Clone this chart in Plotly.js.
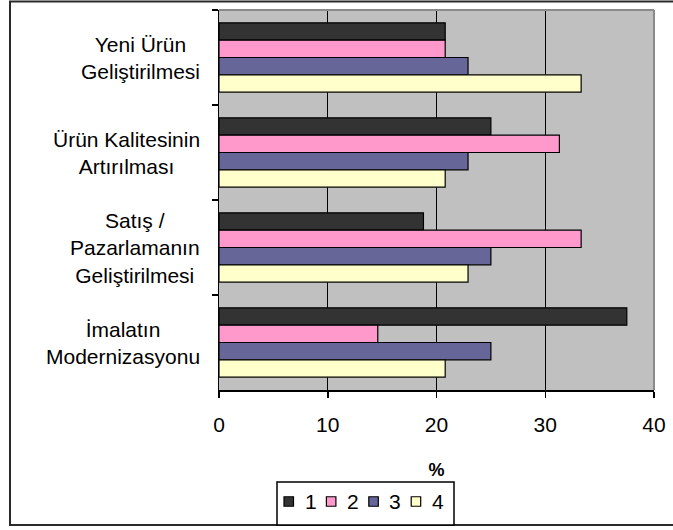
<!DOCTYPE html>
<html>
<head>
<meta charset="utf-8">
<script src="https://cdn.plot.ly/plotly-3.0.1.min.js"></script>
<style>
  html, body { margin: 0; padding: 0; background: #ffffff; }
  #chart { width: 673px; height: 530px; }
</style>
</head>
<body>
<div id="chart"></div>
<script>
const categories = [
  "Yeni Ürün Geliştirilmesi",
  "Ürün Kalitesinin Artırılması",
  "Satış / Pazarlamanın Geliştirilmesi",
  "İmalatın Modernizasyonu"
];
const categoryLabels = [
  "Yeni Ürün<br>Geliştirilmesi",
  "Ürün Kalitesinin<br>Artırılması",
  "Satış /<br>Pazarlamanın<br>Geliştirilmesi",
  "İmalatın<br>Modernizasyonu"
];
const series1 = [20.8, 25.0, 18.8, 37.5];
const series2 = [20.8, 31.3, 33.3, 14.6];
const series3 = [22.9, 22.9, 25.0, 25.0];
const series4 = [33.3, 20.8, 22.9, 20.8];
const seriesNames = ["1", "2", "3", "4"];
const seriesColors = ["#333333", "#FF99CC", "#666699", "#FFFFCC"];
const xTickValues = [0, 10, 20, 30, 40];
const xTitle = "%";

const allSeries = [series1, series2, series3, series4];
const FONT = "Liberation Sans, Arial, sans-serif";

const traces = allSeries.map((vals, i) => ({
  type: "bar",
  orientation: "h",
  name: seriesNames[i],
  x: vals,
  y: categories,
  marker: { color: seriesColors[i], line: { color: "#000000", width: 1.2 } },
  hoverinfo: "x+name"
}));

// plot area in pixels: x 219..654, y 10..390
const W = 673, H = 530, L = 219, R = 19, T = 10, B = 140;
const pw = W - L - R, ph = H - T - B;
const px = v => (v - L) / pw;
const py = v => (H - B - v) / ph;

const annotations = categories.map((c, i) => ({
  xref: "paper", yref: "y",
  x: 0, y: c,
  xanchor: "right", yanchor: "middle",
  xshift: -17,
  align: "center",
  showarrow: false,
  text: categoryLabels[i],
  font: { family: FONT, size: 21, color: "#000000" }
}));

const shapes = [
  // outer chart frame
  { type: "rect", xref: "paper", yref: "paper", layer: "below",
    x0: px(10), x1: px(700), y0: py(525), y1: py(1.5),
    line: { color: "#2a2a2a", width: 2 }, fillcolor: "rgba(0,0,0,0)" },
  // plot area grey border (top, right)
  { type: "line", xref: "paper", yref: "paper", layer: "above",
    x0: 0, x1: 1, y0: 1, y1: 1, line: { color: "#8a8a8a", width: 2 } },
  { type: "line", xref: "paper", yref: "paper", layer: "above",
    x0: 1, x1: 1, y0: 0, y1: 1, line: { color: "#8a8a8a", width: 2 } },
  // legend box
  { type: "rect", xref: "paper", yref: "paper", layer: "above",
    x0: px(277), x1: px(454), y0: py(525), y1: py(482),
    line: { color: "#000000", width: 1.5 }, fillcolor: "#ffffff" }
];

// legend entries (swatch + label), laid out horizontally
const LEG_X0 = 284, LEG_STEP = 42.4, SW = 9.5, LEG_YC = 501.5;
seriesNames.forEach((name, i) => {
  const x0 = LEG_X0 + i * LEG_STEP;
  shapes.push({
    type: "rect", xref: "paper", yref: "paper", layer: "above",
    x0: px(x0), x1: px(x0 + SW), y0: py(LEG_YC + SW / 2), y1: py(LEG_YC - SW / 2),
    line: { color: "#000000", width: 1.2 }, fillcolor: seriesColors[i]
  });
  annotations.push({
    xref: "paper", yref: "paper",
    x: px(x0 + SW + 9), y: py(LEG_YC),
    xanchor: "left", yanchor: "middle",
    showarrow: false,
    text: name,
    font: { family: FONT, size: 21, color: "#000000" }
  });
});

const layout = {
  width: W, height: H,
  margin: { l: L, r: R, t: T, b: B, pad: 0 },
  paper_bgcolor: "#ffffff",
  plot_bgcolor: "#C0C0C0",
  font: { family: FONT, size: 21, color: "#000000" },
  barmode: "group",
  bargap: 0.27,
  bargroupgap: 0,
  showlegend: false,
  xaxis: {
    range: [0, 40],
    tickvals: xTickValues,
    ticktext: xTickValues.map(String),
    showgrid: true, gridcolor: "#000000", gridwidth: 1,
    zeroline: false,
    showline: true, linecolor: "#000000", linewidth: 1.5,
    ticks: "outside", ticklen: 6, tickcolor: "#000000", tickwidth: 1.5,
    ticklabelstandoff: 9,
    tickfont: { family: FONT, size: 21, color: "#000000" },
    title: { text: xTitle, font: { family: FONT, size: 18, color: "#000000", weight: "bold" }, standoff: 28 },
    fixedrange: true
  },
  yaxis: {
    type: "category",
    autorange: "reversed",
    showticklabels: false,
    showgrid: false, zeroline: false,
    showline: true, linecolor: "#000000", linewidth: 1.5,
    ticks: "outside", ticklen: 6, tickcolor: "#000000", tickwidth: 1.5,
    tickson: "boundaries",
    fixedrange: true
  },
  annotations: annotations,
  shapes: shapes
};

Plotly.newPlot("chart", traces, layout, { displayModeBar: false, staticPlot: true });
</script>
</body>
</html>
